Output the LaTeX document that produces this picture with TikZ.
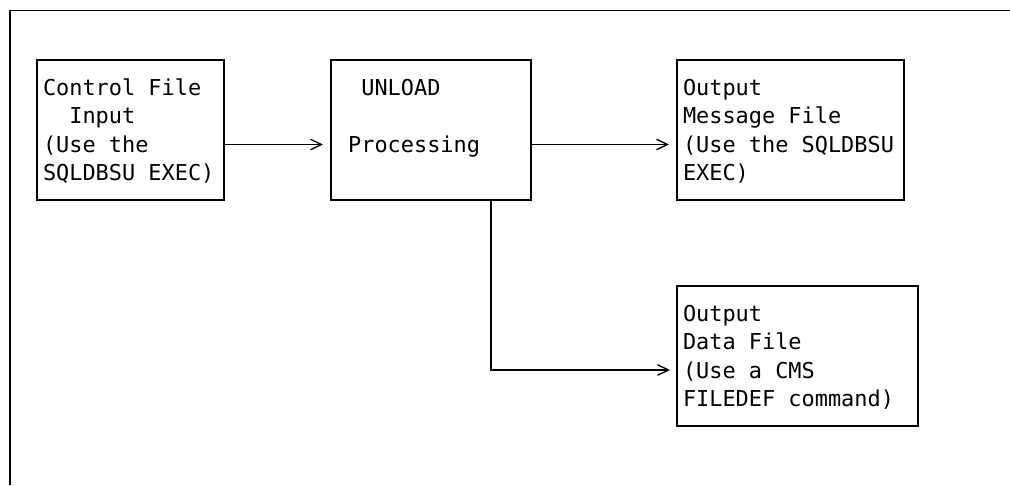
\documentclass[tikz,border=0pt]{standalone}
\usepackage{fontspec}
\newfontfamily\monofnt{DejaVu Sans Mono}
\usetikzlibrary{arrows.meta,calc}
\begin{document}
\begin{tikzpicture}[x=1pt,y=-1pt,
  frameline/.style={line width=1.8pt},
  boxnode/.style={draw,line width=1.3pt,rectangle,anchor=north west,inner sep=0pt,outer sep=0pt,minimum height=140pt},
  txt/.style={anchor=north west,inner sep=0pt,outer sep=0pt,align=left,
    font=\monofnt\fontsize{21.9}{28.6}\selectfont},
  conn/.style={line width=1.3pt,-{Straight Barb[length=11pt,width=10.5pt,line width=1.3pt]}}
]
\useasboundingbox (0,0) rectangle (1010,485);
\fill[white] (0,0) rectangle (1010,485);
\draw[frameline] (10,485) -- (10,10.5) -- (1010,10.5);

\node[boxnode,minimum width=187pt] (b1) at (37,60) {};
\node[boxnode,minimum width=200pt] (b2) at (331,60) {};
\node[boxnode,minimum width=227pt] (b3) at (677,60) {};
\node[boxnode,minimum width=241pt] (b4) at (677,286) {};

\node[txt] (t1) at ($(b1.north west)+(6,15)$) {\strut Control File\\\phantom{XX}Input\\(Use the\\SQLDBSU EXEC)};
\node[txt] (t2) at ($(b2.north west)+(4,15)$) {\strut\phantom{XX}UNLOAD\\\strut\\\phantom{X}Processing};
\node[txt] (t3) at ($(b3.north west)+(6,15)$) {\strut Output\\Message File\\(Use the SQLDBSU\\EXEC)};
\node[txt] (t4) at ($(b4.north west)+(6,15)$) {\strut Output\\Data File\\(Use a CMS\\FILEDEF command)};

\draw[conn] ($(b1.east)+(0,14.5)$) -- ($(b2.west)+(-8,14.5)$);
\draw[conn] ($(b2.east)+(0,14.5)$) -- ($(b3.west)+(-8,14.5)$);
\draw[conn] ($(b2.south)+(60,0)$) |- ($(b4.west)+(-7,14)$);
\end{tikzpicture}
\end{document}
